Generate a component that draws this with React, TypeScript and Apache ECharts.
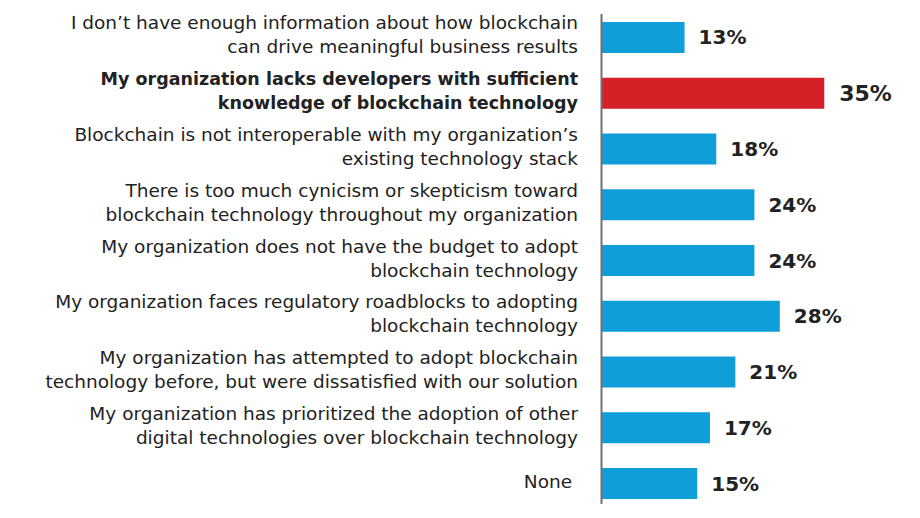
import React, { useEffect, useRef } from "react";
import * as echarts from "echarts";

const categories: string[] = [
  "I don’t have enough information about how blockchain\ncan drive meaningful business results",
  "My organization lacks developers with sufficient\nknowledge of blockchain technology",
  "Blockchain is not interoperable with my organization’s\nexisting technology stack",
  "There is too much cynicism or skepticism toward\nblockchain technology throughout my organization",
  "My organization does not have the budget to adopt\nblockchain technology",
  "My organization faces regulatory roadblocks to adopting\nblockchain technology",
  "My organization has attempted to adopt blockchain\ntechnology before, but were dissatisfied with our solution",
  "My organization has prioritized the adoption of other\ndigital technologies over blockchain technology",
  "None ",
];
const values: number[] = [13, 35, 18, 24, 24, 28, 21, 17, 15];
const highlightIndex = 1;

const BLUE = "#109ED9";
const RED = "#D52027";
const TEXT = "#222222";
const FONT = "'DejaVu Sans', sans-serif";

export default function App() {
  const ref = useRef<HTMLDivElement>(null);
  useEffect(() => {
    if (!ref.current) return;
    const chart = echarts.init(ref.current, undefined, { renderer: "svg" });
    chart.setOption({
      animation: false,
      backgroundColor: "#ffffff",
      grid: { left: 602, right: 64, top: 9.6, bottom: 6.6, containLabel: false },
      xAxis: {
        type: "value",
        min: 0,
        max: 40,
        show: false,
      },
      yAxis: {
        type: "category",
        inverse: true,
        data: categories,
        axisLine: { show: false },
        axisTick: { show: false },
        axisLabel: {
          margin: 24,
          color: TEXT,
          fontFamily: FONT,
          fontSize: 18.5,
          lineHeight: 24,
          align: "right",
          padding: [0, 0, 5, 0],
          formatter: (v: string, i: number) => {
            const lines = v.split("\n");
            const key = i === highlightIndex ? "b" : "n";
            return lines.map((l) => `{${key}|${l}}`).join("\n");
          },
          rich: {
            n: { fontFamily: FONT, fontSize: 18.5, lineHeight: 24, color: TEXT, align: "right" },
            b: { fontFamily: FONT, fontSize: 17.5, lineHeight: 24, color: TEXT, fontWeight: "bold", align: "right" },
          },
        },
      },
      graphic: [
        {
          type: "line",
          shape: { x1: 601.5, y1: 14, x2: 601.5, y2: 504 },
          style: { stroke: "#707070", lineWidth: 2 },
          z: 10,
        },
      ],
      series: [
        {
          type: "bar",
          barWidth: 31,
          data: values.map((v, i) => ({
            value: v,
            itemStyle: { color: i === highlightIndex ? RED : BLUE },
            label: i === highlightIndex ? { fontSize: 22, distance: 15 } : undefined,
          })),
          label: {
            show: true,
            position: "right",
            distance: 14,
            formatter: "{c}%",
            color: TEXT,
            fontFamily: FONT,
            fontWeight: "bold",
            fontSize: 20,
          },
        },
      ],
    });
    return () => chart.dispose();
  }, []);
  return <div ref={ref} style={{ width: 920, height: 518, position: "absolute", left: 0, top: 0 }} />;
}
